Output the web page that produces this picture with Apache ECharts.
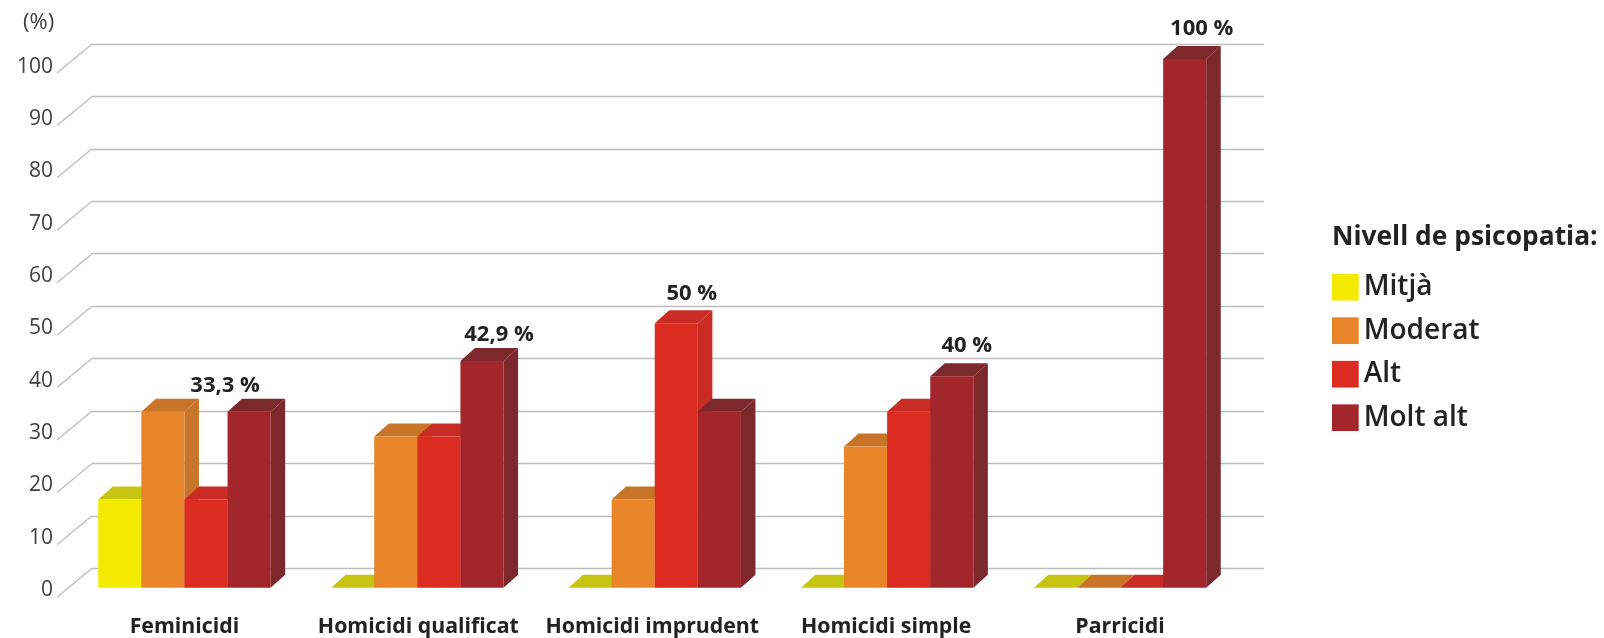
<!DOCTYPE html>
<html>
<head>
<meta charset="utf-8">
<style>html,body{margin:0;padding:0;background:#fff}#chart{width:1604px;height:638px}</style>
<script src="https://cdn.jsdelivr.net/npm/echarts@6/dist/echarts.min.js"></script>
</head>
<body>
<div id="chart"></div>
<script>
// Percentages per homicide type and psychopathy level
const categories = ['Feminicidi', 'Homicidi qualificat', 'Homicidi imprudent', 'Homicidi simple', 'Parricidi'];
const mitja   = [16.7, 0, 0, 0, 0];
const moderat = [33.3, 28.6, 16.7, 26.7, 0];
const alt     = [16.7, 28.6, 50, 33.3, 0];
const moltAlt = [33.3, 42.9, 33.3, 40, 100];
const yTicks  = [0, 10, 20, 30, 40, 50, 60, 70, 80, 90, 100];
const levelNames = ['Mitjà', 'Moderat', 'Alt', 'Molt alt'];
const levelValues = [mitja, moderat, alt, moltAlt];

// Which bar of each category carries a printed percentage: [level index, x nudge, y offset]
const callouts = [[3, -24, -26], [3, 16, -26], [2, 18, -30], [3, 16, -30], [3, 17, -30]];

const frontColors = ['#f4ea00', '#e78528', '#dc2b20', '#a3262b'];
const topColors   = ['#c8c412', '#c8752a', '#c92b25', '#7d282c'];
const sideColors  = ['#c8c412', '#c8752a', '#c92b25', '#7d282c'];

const FONT = '"Open Sans", sans-serif';
const DEPTH_X = 14.5, DEPTH_Y = 13;   // extrusion of the pseudo-3D bars
const BAR_SHARE = 43.1 / 233.9;       // bar width as a share of the category band
const FLOOR_X = 35, FLOOR_Y = 29;     // slant of the ticks joining the labels to the back wall
const GROUP_NUDGE = [0, -1, 2.5, 1, 0]; // small per-group horizontal adjustment of the bars

function barRenderer(level) {
  return function (params, api) {
    const cat = api.value(0), v = api.value(1);
    const band = api.size([1, 0])[0];
    const w = band * BAR_SHARE;
    const base = api.coord([cat, 0]);
    const top = api.coord([cat, v]);
    const x0 = base[0] + (level - 2) * w + GROUP_NUDGE[cat], x1 = x0 + w;
    const y0 = base[1], y1 = top[1];
    const children = [];
    if (v > 0) {
      children.push({
        type: 'polygon',
        shape: { points: [[x1, y1], [x1 + DEPTH_X, y1 - DEPTH_Y], [x1 + DEPTH_X, y0 - DEPTH_Y], [x1, y0]] },
        style: { fill: sideColors[level] }
      });
    }
    children.push({
      type: 'polygon',
      shape: { points: [[x0, y1], [x0 + DEPTH_X, y1 - DEPTH_Y], [x1 + DEPTH_X, y1 - DEPTH_Y], [x1, y1]] },
      style: { fill: topColors[level] }
    });
    if (v > 0) {
      children.push({
        type: 'rect',
        shape: { x: x0, y: y1, width: w, height: y0 - y1 },
        style: { fill: frontColors[level] }
      });
    }
    return { type: 'group', children: children };
  };
}

const barSeries = levelNames.map((name, level) => ({
  type: 'custom',
  name: name,
  coordinateSystem: 'cartesian2d',
  xAxisIndex: 1,
  yAxisIndex: 1,
  z: 5 + level,
  silent: true,
  itemStyle: { color: frontColors[level] },
  data: levelValues[level].map((v, i) => [i, v]),
  renderItem: barRenderer(level)
}));

const calloutSeries = {
  type: 'custom',
  coordinateSystem: 'cartesian2d',
  xAxisIndex: 1,
  yAxisIndex: 1,
  z: 20,
  silent: true,
  data: callouts.map((c, i) => [i, levelValues[c[0]][i], c[0], c[1], c[2]]),
  renderItem: function (params, api) {
    const level = api.value(2), v = api.value(1);
    const w = api.size([1, 0])[0] * BAR_SHARE;
    const p = api.coord([api.value(0), v]);
    return {
      type: 'text',
      style: {
        x: p[0] + (level - 1.5) * w + api.value(3),
        y: p[1] + api.value(4),
        text: String(v).replace('.', ',') + ' %',
        fill: '#222',
        font: '700 22px ' + FONT,
        align: 'center',
        verticalAlign: 'middle'
      }
    };
  }
};

// Slanted ticks from the labels up to the back wall
const slantSeries = {
  type: 'custom',
  coordinateSystem: 'cartesian2d',
  xAxisIndex: 0,
  yAxisIndex: 0,
  z: 1,
  silent: true,
  clip: false,
  data: yTicks.map(t => [0, t]),
  renderItem: function (params, api) {
    const y = api.coord([0, api.value(1)])[1];
    const x = params.coordSys.x;
    return {
      type: 'line',
      shape: { x1: x - FLOOR_X, y1: y + FLOOR_Y, x2: x, y2: y },
      style: { stroke: '#bdbdbd', lineWidth: 1.3 }
    };
  }
};

const option = {
  animation: false,
  backgroundColor: '#fff',
  title: [
    { text: '(%)', left: 23, top: 12, padding: 0, textStyle: { fontFamily: FONT, fontSize: 22, fontWeight: 400, color: '#404040' } },
    { text: 'Nivell de psicopatia:', left: 1332, top: 224, padding: 0, textStyle: { fontFamily: FONT, fontSize: 26.4, fontWeight: 700, color: '#222' } }
  ],
  legend: {
    orient: 'vertical',
    left: 1332,
    top: 273.2,
    padding: 0,
    itemWidth: 26.7,
    itemHeight: 26.7,
    itemGap: 15.5,
    icon: 'rect',
    selectedMode: false,
    data: levelNames,
    textStyle: { fontFamily: FONT, fontSize: 28, fontWeight: 600, color: '#222', padding: [0, 0, 0, 0] }
  },
  grid: [
    { left: 92, width: 1172, top: 44, bottom: 69.7 },       // back wall
    { left: 67.5, width: 1169.5, top: 59, bottom: 50.3 },   // bar front plane
    { left: 56, width: 10, top: 66.7, bottom: 48 }          // axis labels
  ],
  xAxis: [
    { gridIndex: 0, type: 'category', data: categories, show: false },
    {
      gridIndex: 1, type: 'category', data: categories,
      axisLine: { show: false }, axisTick: { show: false },
      axisLabel: { margin: 29, interval: 0, hideOverlap: false, fontFamily: FONT, fontSize: 21.3, fontWeight: 700, color: '#222' }
    },
    { gridIndex: 2, type: 'category', data: categories, show: false }
  ],
  yAxis: [
    {
      gridIndex: 0, type: 'value', min: 0, max: 100, interval: 10,
      axisLine: { show: false }, axisTick: { show: false }, axisLabel: { show: false },
      splitLine: { show: true, lineStyle: { color: '#bdbdbd', width: 1.3 } }
    },
    { gridIndex: 1, type: 'value', min: 0, max: 100, interval: 10, show: false },
    {
      gridIndex: 2, type: 'value', min: 0, max: 100, interval: 10,
      axisLine: { show: false }, axisTick: { show: false }, splitLine: { show: false },
      axisLabel: { margin: 3, fontFamily: FONT, fontSize: 21, color: '#404040' }
    }
  ],
  series: [slantSeries].concat(barSeries, [calloutSeries])
};

const chart = echarts.init(document.getElementById('chart'), null, { renderer: 'canvas' });
chart.setOption(option);
</script>
</body>
</html>
